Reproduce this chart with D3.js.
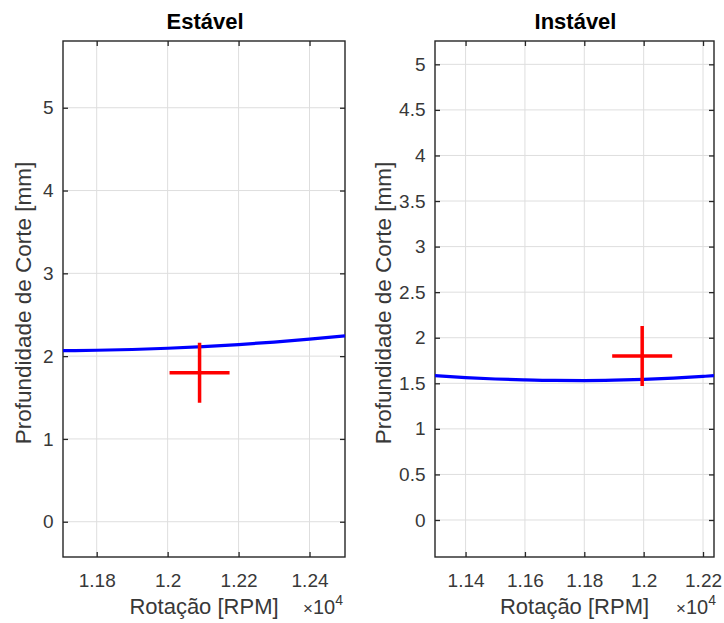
<!DOCTYPE html>
<html>
<head>
<meta charset="utf-8">
<script src="https://cdn.jsdelivr.net/npm/d3@7"></script>
<style>
 body{margin:0;background:#fff;}
 svg{display:block;font-family:"Liberation Sans",Arial,Helvetica,sans-serif;}
</style>
</head>
<body>
<div id="chart"></div>
<script>
var stableRpm=[11705,11800,11900,12000,12100,12200,12300,12400,12500];
var stableDepth=[2.066,2.071,2.080,2.095,2.115,2.140,2.170,2.205,2.245];
var stablePoint={rpm:12090,depth:1.80};
var stableYTicks=[0,1,2,3,4,5];
var stableXTicks=[11800,12000,12200,12400];

var unstableRpm=[11297,11400,11500,11600,11700,11800,11900,12000,12100,12200,12237];
var unstableDepth=[1.584,1.563,1.547,1.537,1.531,1.530,1.534,1.543,1.557,1.576,1.584];
var unstablePoint={rpm:11995,depth:1.80};
var unstableYTicks=[0,0.5,1,1.5,2,2.5,3,3.5,4,4.5,5];
var unstableXTicks=[11400,11600,11800,12000,12200];

var W=724,H=623;
var svg=d3.select("#chart").append("svg").attr("width",W).attr("height",H);

function panel(o)
{
 var x=d3.scaleLinear().domain(o.xDomain).range([o.left,o.right]);
 var y=d3.scaleLinear().domain(o.yDomain).range([o.bottom,o.top]);
 var g=svg.append("g");
 var cid="clip"+o.id;
 g.append("clipPath").attr("id",cid).append("rect")
  .attr("x",o.left).attr("y",o.top).attr("width",o.right-o.left).attr("height",o.bottom-o.top);

 // grid
 g.append("g").selectAll("line").data(o.xTicks).enter().append("line")
  .attr("x1",function(d){return x(d);}).attr("x2",function(d){return x(d);})
  .attr("y1",o.top).attr("y2",o.bottom)
  .attr("stroke","#dedede").attr("stroke-width",1);
 g.append("g").selectAll("line").data(o.yTicks).enter().append("line")
  .attr("y1",function(d){return y(d);}).attr("y2",function(d){return y(d);})
  .attr("x1",o.left).attr("x2",o.right)
  .attr("stroke","#dedede").attr("stroke-width",1);

 var fmtX=function(d){return d3.format("~g")(d/1e4);};
 var tk=5;
 var ax=[
  g.append("g").attr("transform","translate(0,"+o.bottom+")").call(d3.axisBottom(x).tickValues(o.xTicks).tickFormat(fmtX).tickSizeInner(-tk).tickSizeOuter(0).tickPadding(17)),
  g.append("g").attr("transform","translate(0,"+o.top+")").call(d3.axisTop(x).tickValues(o.xTicks).tickFormat("").tickSizeInner(-tk).tickSizeOuter(0)),
  g.append("g").attr("transform","translate("+o.left+",0)").call(d3.axisLeft(y).tickValues(o.yTicks).tickFormat(d3.format("~g")).tickSizeInner(-tk).tickSizeOuter(0).tickPadding(9.5)),
  g.append("g").attr("transform","translate("+o.right+",0)").call(d3.axisRight(y).tickValues(o.yTicks).tickFormat("").tickSizeInner(-tk).tickSizeOuter(0))
 ];
 ax.forEach(function(a){
  a.select(".domain").remove();
  a.selectAll("line").attr("stroke","#262626").attr("stroke-width",1.3);
  a.selectAll("text").attr("fill","#383838").style("font-size","19px").style("font-family","'Liberation Sans',Arial,sans-serif");
 });

 g.append("rect").attr("x",o.left).attr("y",o.top).attr("width",o.right-o.left).attr("height",o.bottom-o.top)
  .attr("fill","none").attr("stroke","#262626").attr("stroke-width",1.4);

 var pts=o.rpm.map(function(r,i){return [r,o.depth[i]];});
 g.append("path").datum(pts).attr("clip-path","url(#"+cid+")")
  .attr("d",d3.line().x(function(d){return x(d[0]);}).y(function(d){return y(d[1]);}).curve(d3.curveMonotoneX))
  .attr("fill","none").attr("stroke","#0000ff").attr("stroke-width",3.2);

 var s=30;
 var cx=x(o.point.rpm),cy=y(o.point.depth);
 g.append("path")
  .attr("d","M"+(cx-s)+","+cy+"H"+(cx+s)+"M"+cx+","+(cy-s)+"V"+(cy+s))
  .attr("fill","none").attr("stroke","#ff0000").attr("stroke-width",3.5);

 g.append("text").attr("x",(o.left+o.right)/2+1).attr("y",29).attr("text-anchor","middle")
  .style("font-size","22px").style("font-weight","bold").attr("fill","#000").text(o.title);

 g.append("text").attr("x",(o.left+o.right)/2).attr("y",614).attr("text-anchor","middle")
  .style("font-size","22px").attr("fill","#383838").text("Rotação [RPM]");

 g.append("text").attr("transform","translate("+o.ylabX+","+((o.top+o.bottom)/2+4)+") rotate(-90)")
  .attr("text-anchor","middle").style("font-size","22.5px").attr("fill","#383838").text("Profundidade de Corte [mm]");

 var ex=g.append("text").attr("x",o.right+o.expShift).attr("y",614).attr("text-anchor","end").attr("fill","#383838").style("font-size","20px");
 ex.append("tspan").style("font-size","17px").text("\u00d7");
 ex.append("tspan").text("10");
 ex.append("tspan").attr("dy",-9).style("font-size","14px").text("4");
}

panel({id:"a",title:"Estável",left:63,right:345,top:41,bottom:557,
 xDomain:[11705,12500],yDomain:[-0.426,5.806],xTicks:stableXTicks,yTicks:stableYTicks,
 rpm:stableRpm,depth:stableDepth,point:stablePoint,ylabX:31,expShift:-2});
panel({id:"b",title:"Instável",left:435,right:714,top:41,bottom:557,
 xDomain:[11297,12237],yDomain:[-0.406,5.256],xTicks:unstableXTicks,yTicks:unstableYTicks,
 rpm:unstableRpm,depth:unstableDepth,point:unstablePoint,ylabX:391,expShift:2});
</script>
</body>
</html>
